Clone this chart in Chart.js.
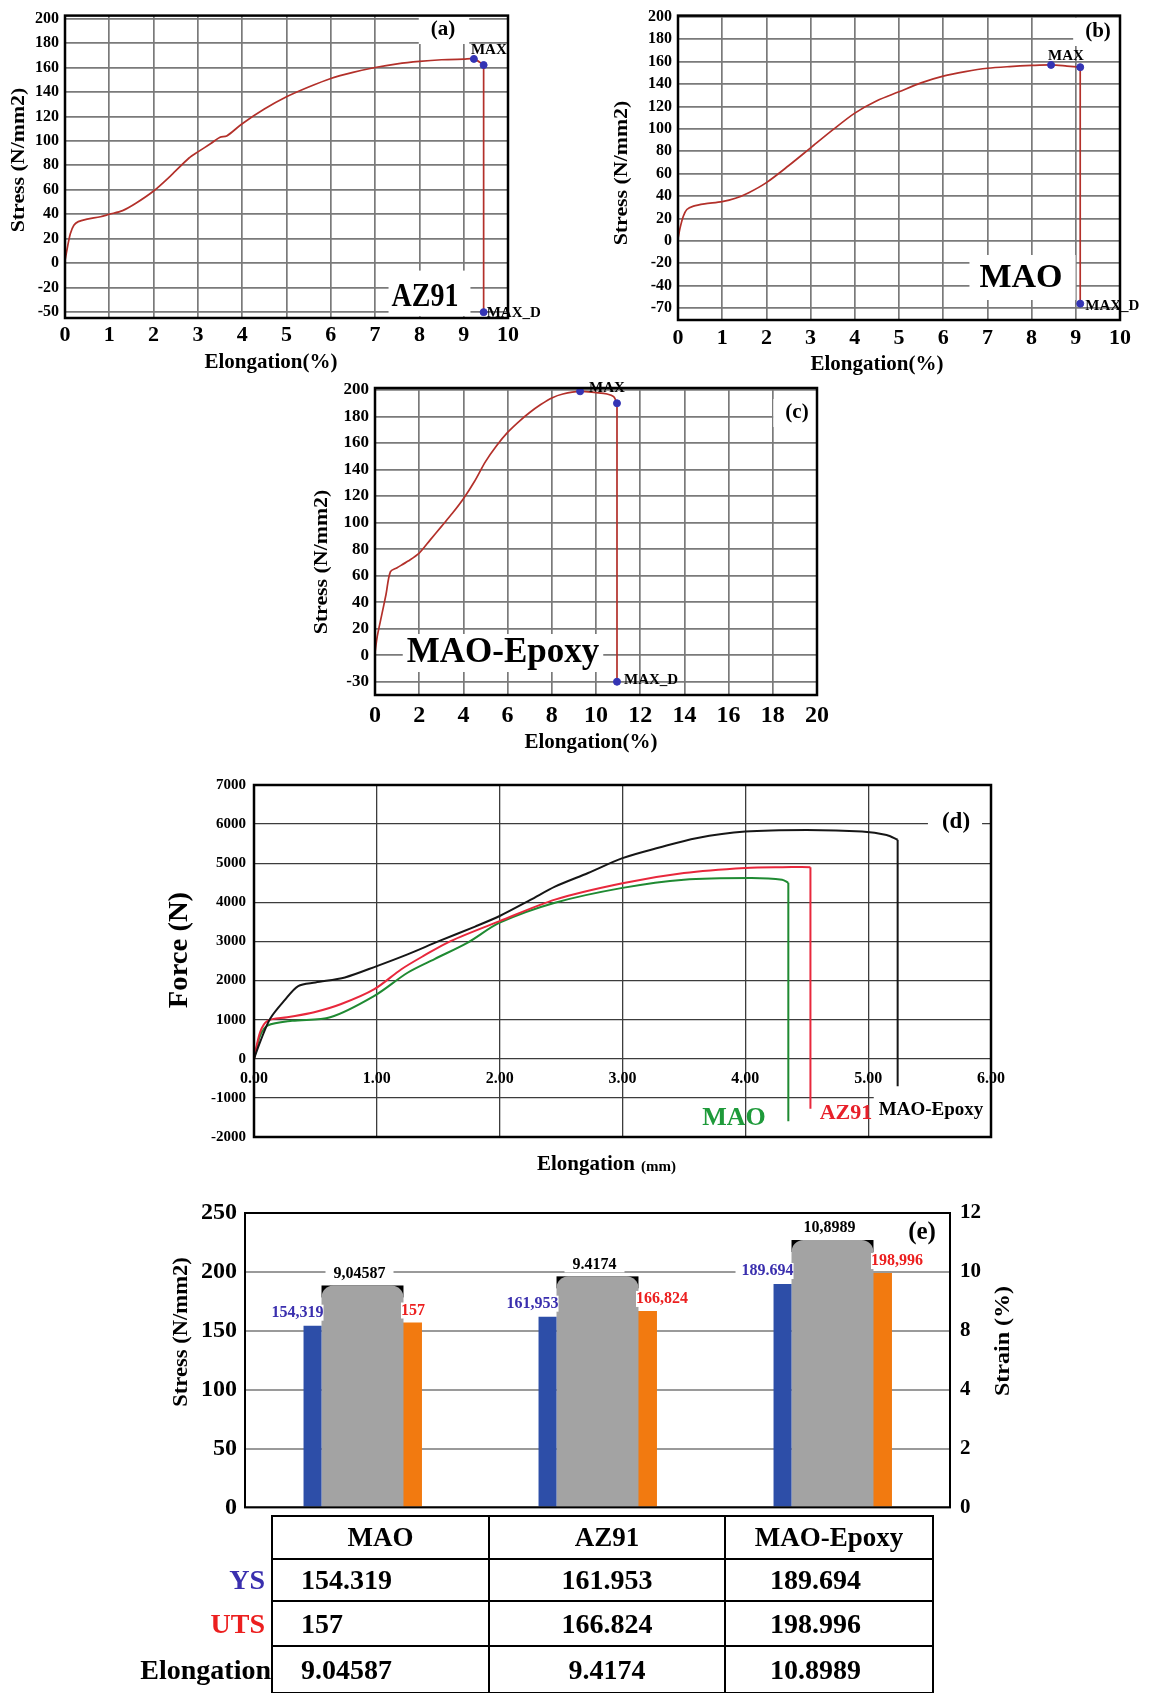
<!DOCTYPE html>
<html>
<head>
<meta charset="utf-8">
<script src="https://cdn.jsdelivr.net/npm/chart.js@4.4.0/dist/chart.umd.min.js"></script>
<style>
  body { margin: 0; background: #fff; width: 1153px; height: 1693px; position: relative; overflow: hidden; }
  canvas { position: absolute; }
  #tbl { position: absolute; left: 271px; top: 1515px; width: 661px; border-collapse: collapse; table-layout: fixed;
         font-family: 'Liberation Serif', serif; font-weight: bold; color: #000; }
  #tbl td, #tbl th { border: 2px solid #000; padding: 0; line-height: 1; vertical-align: middle; }
  #tbl th { font-size: 27px; text-align: center; }
  #tbl td { font-size: 28px; }
  #tbl td.c1 { text-align: left; padding-left: 28px; }
  #tbl td.c2 { text-align: center; }
  #tbl td.c3 { text-align: left; padding-left: 44px; }
  .rowlab { position: absolute; font-family: 'Liberation Serif', serif; font-weight: bold; font-size: 28px; line-height: 1; text-align: right; }
</style>
</head>
<body>
<canvas id="cA" width="575" height="385" style="left:0;top:0"></canvas>
<canvas id="cB" width="578" height="385" style="left:575px;top:0"></canvas>
<canvas id="cC" width="560" height="400" style="left:280px;top:365px"></canvas>
<canvas id="cD" width="880" height="450" style="left:140px;top:740px"></canvas>
<canvas id="cE" width="900" height="350" style="left:140px;top:1180px"></canvas>
<table id="tbl"></table>

<script>
// ── (a) AZ91 stress / elongation ─────────────────────────────────
// the source y axes are irregular: the lowest gridline is labelled -50 / -70 / -30
const aElong  = [0, 0.05, 0.12, 0.2, 0.3, 0.5, 0.8, 1.0, 1.3, 1.6, 2.0, 2.4, 2.8, 3.0, 3.3, 3.5, 3.65, 4.0, 4.5, 5.0, 5.5, 6.0, 6.5, 7.0, 7.5, 8.0, 8.5, 9.0, 9.23, 9.45, 9.45];
const aStress = [2, 12, 24, 31, 34, 36, 38, 40, 43, 49, 59, 72, 86, 91, 98, 103, 104, 114, 126, 136, 144, 151, 156, 160, 163, 165, 166.3, 166.8, 167, 162, -40];
const aMarkX = [9.23, 9.45, 9.45];
const aMarkY = [167, 162, -40];
const aYTicks = [-40, -20, 0, 20, 40, 60, 80, 100, 120, 140, 160, 180, 200];
const aYTickLabels = ['-50', '-20', '0', '20', '40', '60', '80', '100', '120', '140', '160', '180', '200'];

// ── (b) MAO ──────────────────────────────────────────────────────
const bElong  = [0, 0.05, 0.12, 0.2, 0.35, 0.6, 1.0, 1.3, 1.6, 2.0, 2.5, 3.0, 3.5, 4.0, 4.5, 5.0, 5.5, 6.0, 6.5, 7.0, 7.5, 8.0, 8.44, 8.8, 9.1, 9.1];
const bStress = [2, 12, 22, 28, 31, 33, 35, 38, 43, 52, 67, 83, 99, 114, 125, 133, 141, 147, 151, 154, 155.5, 156.5, 157, 156, 155, -56];
const bMarkX = [8.44, 9.1, 9.1];
const bMarkY = [157, 155, -56];
const bYTicks = [-60, -40, -20, 0, 20, 40, 60, 80, 100, 120, 140, 160, 180, 200];
const bYTickLabels = ['-70', '-40', '-20', '0', '20', '40', '60', '80', '100', '120', '140', '160', '180', '200'];

// ── (c) MAO-Epoxy ────────────────────────────────────────────────
const cElong  = [0, 0.1, 0.3, 0.5, 0.7, 1.0, 1.5, 2.0, 2.5, 3.0, 3.5, 4.0, 4.5, 5.0, 5.5, 6.0, 6.5, 7.0, 7.5, 8.0, 8.5, 9.28, 10.0, 10.5, 10.8, 10.95, 10.95];
const cStress = [2, 14, 30, 46, 63, 66, 71, 77, 87, 97, 107, 118, 131, 146, 158, 168, 176, 183, 189, 194, 197, 199, 198, 197, 195, 190, -20];
const cMarkX = [9.28, 10.95, 10.95];
const cMarkY = [199, 190, -20];
const cYTicks = [-20, 0, 20, 40, 60, 80, 100, 120, 140, 160, 180, 200];
const cYTickLabels = ['-30', '0', '20', '40', '60', '80', '100', '120', '140', '160', '180', '200'];

// ── (d) force / elongation (mm) ──────────────────────────────────
const dEpoxyElong = [0, 0.05, 0.13, 0.25, 0.36, 0.5, 0.74, 1.0, 1.25, 1.5, 1.8, 2.0, 2.25, 2.45, 2.72, 3.0, 3.3, 3.6, 4.0, 4.5, 4.95, 5.15, 5.24, 5.24];
const dEpoxyForce = [0, 430, 1020, 1500, 1860, 1950, 2080, 2370, 2670, 3000, 3380, 3650, 4060, 4400, 4750, 5130, 5400, 5640, 5810, 5850, 5810, 5720, 5600, -700];
const dAZ91Elong  = [0, 0.05, 0.11, 0.27, 0.49, 0.71, 0.98, 1.2, 1.38, 1.6, 2.0, 2.45, 3.0, 3.5, 4.0, 4.3, 4.53, 4.53];
const dAZ91Force  = [0, 680, 970, 1060, 1190, 1400, 1780, 2290, 2630, 3010, 3520, 4070, 4490, 4750, 4880, 4900, 4900, -1280];
const dMAOElong   = [0, 0.05, 0.11, 0.31, 0.62, 0.98, 1.25, 1.47, 1.74, 2.0, 2.45, 3.0, 3.5, 4.05, 4.3, 4.35, 4.35];
const dMAOForce   = [0, 590, 850, 970, 1060, 1610, 2200, 2550, 2970, 3480, 3990, 4370, 4580, 4620, 4580, 4500, -1600];

// ── (e) summary bars + table ─────────────────────────────────────
const eCategories = ['MAO', 'AZ91', 'MAO-Epoxy'];
const eYS    = [154.319, 161.953, 189.694];
const eUTS   = [157, 166.824, 198.996];
const eElong = [9.04587, 9.4174, 10.8989];
const eYSLabels    = ['154,319', '161,953', '189.694'];
const eUTSLabels   = ['157', '166,824', '198,996'];
const eElongLabels = ['9,04587', '9.4174', '10,8989'];
const eStrainTicks = [0, 2.4, 4.8, 7.2, 9.6, 12];
const eStrainTickLabels = ['0', '2', '4', '8', '10', '12'];
const rowLabels = ['YS', 'UTS', 'Elongation'];

// ── STYLE ────────────────────────────────────────────────────────
const FONT = "'Liberation Serif', 'Times New Roman', serif";
const CURVE = '#b3302a';
const MARK = '#3434b4';
const GRID = '#7a7a7a';
const BLUE = '#2d4ea8', GRAY = '#a3a3a3', ORANGE = '#f27a10';
const YS_COLOR = '#3a2fae', UTS_COLOR = '#ec1f1f';

Chart.defaults.font.family = FONT;
Chart.defaults.color = '#000';
Chart.defaults.animation = false;
Chart.defaults.plugins.legend.display = false;
Chart.defaults.plugins.tooltip.enabled = false;

const fnt = (size, bold = true) => ({ family: FONT, size, weight: bold ? 'bold' : 'normal' });
const css = (size, bold = true) => `${bold ? 'bold ' : ''}${size}px ${FONT}`;
const toPoints = (xs, ys) => xs.map((x, i) => ({ x, y: ys[i] }));

// curve up to the break point (smoothed) + straight vertical drop after it
function curveAndDrop(xs, ys, color, width) {
  const pts = toPoints(xs, ys);
  return [
    { data: pts.slice(0, -1), borderColor: color, borderWidth: width, pointRadius: 0, tension: 0.3 },
    { data: pts.slice(-2), borderColor: color, borderWidth: width, pointRadius: 0, tension: 0 }
  ];
}

// ── HELPER: text / frame decoration ──────────────────────────────
function drawText(chart, t, ox, oy) {
  const ctx = chart.ctx;
  let x, y;
  if (t.at) {
    const el = chart.getDatasetMeta(t.at[0]).data[t.at[1]];
    x = el.x + t.at[2]; y = el.y + t.at[3];
  } else {
    x = t.x - ox; y = t.y - oy;
  }
  ctx.save();
  ctx.translate(x, y);
  if (t.rot) ctx.rotate(t.rot * Math.PI / 180);
  ctx.scale(t.sx || 1, t.sy || 1);
  ctx.font = t.font;
  ctx.textAlign = t.align || 'center';
  ctx.textBaseline = 'middle';
  if (t.bg) {
    const w = ctx.measureText(t.text).width;
    const x0 = t.align === 'left' ? 0 : t.align === 'right' ? -w : -w / 2;
    ctx.fillStyle = '#fff';
    ctx.fillRect(x0 - t.bg[0], -t.bg[1], w + t.bg[0] + t.bg[2], t.bg[1] + t.bg[3]);
  }
  ctx.fillStyle = t.color || '#000';
  ctx.fillText(t.text, 0, 0);
  ctx.restore();
}

function decor(spec) {
  return {
    id: 'decor',
    afterDatasetsDraw(chart) {
      const a = chart.chartArea, ctx = chart.ctx;
      spec.texts.filter(t => t.bg).forEach(t => drawText(chart, t, spec.ox, spec.oy));
      if (spec.frame) {
        ctx.save();
        ctx.strokeStyle = '#000';
        ctx.lineWidth = spec.frame;
        ctx.strokeRect(a.left, a.top, a.right - a.left, a.bottom - a.top);
        ctx.restore();
      }
      spec.texts.filter(t => !t.bg).forEach(t => drawText(chart, t, spec.ox, spec.oy));
    }
  };
}

// ── STRESS-STRAIN PANELS (a)(b)(c) ───────────────────────────────
function stressChart(id, o) {
  return new Chart(document.getElementById(id), {
    type: 'line',
    data: {
      datasets: [
        { data: toPoints(o.mx, o.my), showLine: false, pointRadius: 3.5, pointBackgroundColor: MARK, pointBorderColor: MARK },
        ...curveAndDrop(o.xs, o.ys, CURVE, 1.7)
      ]
    },
    options: {
      responsive: false,
      devicePixelRatio: 1,
      layout: { padding: { top: o.top, right: o.right, left: 0, bottom: 0 } },
      scales: {
        x: {
          type: 'linear', min: 0, max: o.xMax,
          ticks: { stepSize: o.xStep, font: fnt(o.xFont), padding: o.xPad },
          grid: { color: GRID, lineWidth: 1.7, drawTicks: false },
          border: { display: false },
          afterFit: (ax) => { ax.height = o.xHeight; }
        },
        y: {
          min: o.yMin, max: o.yMax,
          afterBuildTicks: (ax) => { ax.ticks = o.yTicks.map(v => ({ value: v })); },
          ticks: { autoSkip: false, font: fnt(o.yFont), padding: 6, callback: (v) => o.yLabels[o.yTicks.indexOf(v)] },
          grid: { color: GRID, lineWidth: 1.7, drawTicks: false },
          border: { display: false },
          afterFit: (ax) => { ax.width = o.yWidth; }
        }
      }
    },
    plugins: [decor(o.decor)]
  });
}

stressChart('cA', {
  xs: aElong, ys: aStress, mx: aMarkX, my: aMarkY,
  yTicks: aYTicks, yLabels: aYTickLabels, yMin: -44.8, yMax: 202.4,
  xMax: 10, xStep: 1, xFont: 22, yFont: 16, xPad: 4,
  top: 12, right: 67, yWidth: 65, xHeight: 67,
  decor: { ox: 0, oy: 0, frame: 2.5, texts: [
    { text: 'Stress (N/mm2)', x: 19, y: 160, font: css(19), rot: -90, sx: 1.15 },
    { text: 'Elongation(%)', x: 271, y: 363, font: css(21) },
    { text: '(a)', x: 443, y: 30, font: css(21), bg: [12, 14, 14, 14] },
    { text: 'AZ91', x: 425, y: 297, font: css(28), sy: 1.2, bg: [3, 22, 12, 16] },
    { text: 'MAX', at: [0, 0, -3, -9], align: 'left', font: css(15) },
    { text: 'MAX_D', at: [0, 2, 3, 1], align: 'left', font: css(15) }
  ] }
});

stressChart('cB', {
  xs: bElong, ys: bStress, mx: bMarkX, my: bMarkY,
  yTicks: bYTicks, yLabels: bYTickLabels, yMin: -70.6, yMax: 201,
  xMax: 10, xStep: 1, xFont: 22, yFont: 16, xPad: 5,
  top: 12, right: 33, yWidth: 103, xHeight: 65,
  decor: { ox: 575, oy: 0, frame: 2.5, texts: [
    { text: 'Stress (N/mm2)', x: 622, y: 173, font: css(19), rot: -90, sx: 1.15 },
    { text: 'Elongation(%)', x: 877, y: 365, font: css(21) },
    { text: '(b)', x: 1098, y: 32, font: css(21), bg: [12, 14, 14, 14] },
    { text: 'MAO', x: 1021, y: 278, font: css(34), bg: [10, 23, 13, 22] },
    { text: 'MAX', at: [0, 0, -3, -9], align: 'left', font: css(15) },
    { text: 'MAX_D', at: [0, 2, 5, 2], align: 'left', font: css(15) }
  ] }
});

stressChart('cC', {
  xs: cElong, ys: cStress, mx: cMarkX, my: cMarkY,
  yTicks: cYTicks, yLabels: cYTickLabels, yMin: -30, yMax: 201.5,
  xMax: 20, xStep: 2, xFont: 24, yFont: 17, xPad: 6,
  top: 23, right: 23, yWidth: 95, xHeight: 70,
  decor: { ox: 280, oy: 365, frame: 2.5, texts: [
    { text: 'Stress (N/mm2)', x: 322, y: 562, font: css(19), rot: -90, sx: 1.15 },
    { text: 'Elongation(%)', x: 591, y: 743, font: css(21) },
    { text: '(c)', x: 797, y: 413, font: css(21), bg: [12, 14, 12, 14] },
    { text: 'MAO-Epoxy', x: 503, y: 653, font: css(35), bg: [4, 19, 4, 19] },
    { text: 'MAX', at: [0, 0, 9, -3], align: 'left', font: css(15) },
    { text: 'MAX_D', at: [0, 2, 7, -2], align: 'left', font: css(15) }
  ] }
});

// ── (d) FORCE CHART ──────────────────────────────────────────────
new Chart(document.getElementById('cD'), {
  type: 'line',
  data: {
    datasets: [
      ...curveAndDrop(dEpoxyElong, dEpoxyForce, '#161616', 2),
      ...curveAndDrop(dAZ91Elong, dAZ91Force, '#e8283c', 2),
      ...curveAndDrop(dMAOElong, dMAOForce, '#1f8a32', 2)
    ]
  },
  options: {
    responsive: false,
    devicePixelRatio: 1,
    layout: { padding: { top: 45, right: 29, left: 0, bottom: 53 } },
    scales: {
      x: {
        type: 'linear', position: { y: 0 }, min: 0, max: 6,
        ticks: { stepSize: 1, font: fnt(16), padding: 10, callback: (v) => v.toFixed(2) },
        grid: { color: '#3c3c3c', lineWidth: 1.3, drawTicks: false },
        border: { display: false }
      },
      y: {
        min: -2000, max: 7000,
        ticks: { stepSize: 1000, font: fnt(15), padding: 8, callback: (v) => String(v) },
        grid: { color: '#3c3c3c', lineWidth: 1.3, drawTicks: false },
        border: { display: false },
        afterFit: (ax) => { ax.width = 114; }
      }
    }
  },
  plugins: [decor({ ox: 140, oy: 740, frame: 2.5, texts: [
    { text: 'Force (N)', x: 180, y: 950, font: css(27), rot: -90, sx: 1.06 },
    { text: 'Elongation', x: 635, y: 1165, font: css(21), align: 'right' },
    { text: '(mm)', x: 641, y: 1167, font: css(15), align: 'left' },
    { text: '(d)', x: 956, y: 822, font: css(23), bg: [14, 14, 12, 14] },
    { text: 'MAO', x: 734, y: 1118, font: css(26), color: '#1e9a3a' },
    { text: 'AZ91', x: 846, y: 1113, font: css(22), color: '#e8202a' },
    { text: 'MAO-Epoxy', x: 931, y: 1110, font: css(19), bg: [5, 14, 10, 12] }
  ] })]
});

// ── (e) BAR CHART ────────────────────────────────────────────────
const cornerPlugin = {
  id: 'corners',
  beforeDatasetDraw(chart, args) {
    if (args.index !== 1) return;
    const ctx = chart.ctx;
    ctx.save();
    ctx.fillStyle = '#000';
    args.meta.data.forEach(el => ctx.fillRect(el.x - el.width / 2, el.y, el.width, 12));
    ctx.restore();
  }
};

const barLabelPlugin = {
  id: 'barLabels',
  afterDatasetsDraw(chart) {
    const sets = [
      { ds: 0, labels: eYSLabels, color: YS_COLOR, align: 'right', dx: (el) => el.width / 2 + 2, dy: -13, bg: [6, 8, 0, 8] },
      { ds: 1, labels: eElongLabels, color: '#000', align: 'center', dx: () => -3, dy: -12, bg: [8, 8, 8, 8] },
      { ds: 2, labels: eUTSLabels, color: UTS_COLOR, align: 'left', dx: (el) => -el.width / 2 - 2, dy: -12, bg: [0, 8, 6, 8] }
    ];
    sets.forEach(s => {
      chart.getDatasetMeta(s.ds).data.forEach((el, i) => {
        drawText(chart, { text: s.labels[i], x: el.x + s.dx(el), y: el.y + s.dy, font: css(16), color: s.color, align: s.align, bg: s.bg }, 0, 0);
      });
    });
  }
};

const barCommon = { categoryPercentage: 0.638 };
new Chart(document.getElementById('cE'), {
  type: 'bar',
  data: {
    labels: eCategories,
    datasets: [
      { label: 'YS', data: eYS, yAxisID: 'y', backgroundColor: BLUE, barPercentage: 0.36, ...barCommon },
      { label: 'Elongation', data: eElong, yAxisID: 'y2', backgroundColor: GRAY, barPercentage: 1.64,
        borderRadius: { topLeft: 12, topRight: 12, bottomLeft: 0, bottomRight: 0 }, ...barCommon },
      { label: 'UTS', data: eUTS, yAxisID: 'y', backgroundColor: ORANGE, barPercentage: 0.38, ...barCommon }
    ]
  },
  options: {
    responsive: false,
    devicePixelRatio: 1,
    layout: { padding: { top: 33, right: 0, left: 0, bottom: 22 } },
    scales: {
      x: {
        ticks: { display: false },
        grid: { display: false },
        border: { display: false },
        afterFit: (ax) => { ax.height = 0; }
      },
      y: {
        position: 'left', min: 0, max: 250,
        ticks: { stepSize: 50, font: fnt(24), padding: 8 },
        grid: { color: '#9a9a9a', lineWidth: 2, drawTicks: false },
        border: { display: false },
        afterFit: (ax) => { ax.width = 105; }
      },
      y2: {
        position: 'right', min: 0, max: 12,
        afterBuildTicks: (ax) => { ax.ticks = eStrainTicks.map(v => ({ value: v })); },
        ticks: { autoSkip: false, font: fnt(21), padding: 10, callback: (v) => eStrainTickLabels[eStrainTicks.indexOf(v)] },
        grid: { display: false, drawTicks: false },
        border: { display: false },
        afterFit: (ax) => { ax.width = 90; }
      }
    }
  },
  plugins: [cornerPlugin, barLabelPlugin, decor({ ox: 140, oy: 1180, frame: 2, texts: [
    { text: 'Stress (N/mm2)', x: 182, y: 1332, font: css(20), rot: -90, sx: 1.13 },
    { text: 'Strain (%)', x: 1004, y: 1341, font: css(20), rot: -90, sx: 1.2 },
    { text: '(e)', x: 922, y: 1233, font: css(25) }
  ] })]
});

// ── TABLE ────────────────────────────────────────────────────────
const tbl = document.getElementById('tbl');
const colW = [217, 236, 208];
const rowH = [43, 42, 45, 47];
let html = '<colgroup>' + colW.map(w => `<col style="width:${w}px">`).join('') + '</colgroup>';
html += `<tr style="height:${rowH[0]}px">` + eCategories.map(c => `<th>${c}</th>`).join('') + '</tr>';
[eYS, eUTS, eElong].forEach((vals, r) => {
  html += `<tr style="height:${rowH[r + 1]}px">` + vals.map((v, i) => `<td class="c${i + 1}">${v}</td>`).join('') + '</tr>';
});
tbl.innerHTML = html;

const rowLabelPos = [{ right: 888, top: 1566, color: YS_COLOR }, { right: 888, top: 1610, color: UTS_COLOR }, { right: 882, top: 1656, color: '#000' }];
rowLabels.forEach((t, i) => {
  const d = document.createElement('div');
  d.className = 'rowlab';
  d.textContent = t;
  d.style.right = rowLabelPos[i].right + 'px';
  d.style.top = rowLabelPos[i].top + 'px';
  d.style.color = rowLabelPos[i].color;
  document.body.appendChild(d);
});
</script>
</body>
</html>
